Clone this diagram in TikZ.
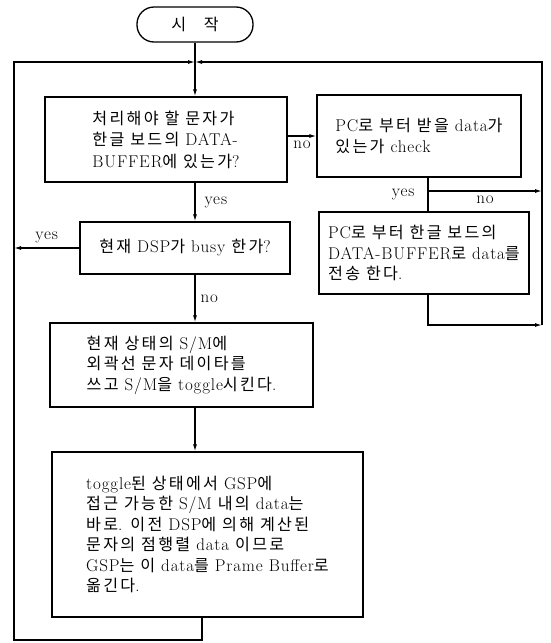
\documentclass[tikz,border=0pt]{standalone}
\usepackage{fontspec}
\setmainfont{Latin Modern Roman}[LetterSpace=5]
\newfontfamily\kr{Noto Sans CJK KR}[Scale=0.95, LetterSpace=14]
\usetikzlibrary{arrows.meta}

\begin{document}
\begin{tikzpicture}[
    x=1pt, y=-1pt,
    line width=1.2pt,
    font=\fontsize{17}{20.5}\selectfont,
    proc/.style={rectangle, draw, line width=1.3pt,
                 align=left, inner sep=0pt},
    term/.style={proc, rounded corners=17pt, align=center},
    flow/.style={-{Latex[length=7pt, width=4pt]}},
    tag/.style={inner sep=1pt},
]
\useasboundingbox (0,0) rectangle (551,643);

% Nodes -- main column
\node[term, minimum width=116pt, minimum height=35pt]
      (start) at (195,24.5) {{\kr 시\hspace{1.1em}작}};
\node[proc, minimum width=242pt, minimum height=85pt]
      (find) at (166,139.5)
      {{\kr 처리해야 할 문자가}\\[1pt]{\kr 한글 보드의} DATA-\\[1pt]BUFFER{\kr 에 있는가}?};
\node[proc, minimum width=210pt, minimum height=52pt]
      (dsp) at (185,248) {{\kr 현재} DSP{\kr 가} busy {\kr 한가}?};
\node[proc, minimum width=263pt, minimum height=84pt]
      (write) at (181.5,365)
      {{\kr 현재 상태의} S/M{\kr 에}\\{\kr 외곽선 문자 데이타를}\\{\kr 쓰고} S/M{\kr 을} toggle{\kr 시킨다}.};
\node[proc, minimum width=311pt, minimum height=165pt]
      (move) at (207.5,534.5)
      {toggle{\kr 된 상태에서} GSP{\kr 에}\\
       {\kr 접근 가능한} S/M {\kr 내의} data{\kr 는}\\
       {\kr 바로}. {\kr 이전} DSP{\kr 에 의해 계산된}\\
       {\kr 문자의 점행렬} data {\kr 이므로}\\
       GSP{\kr 는 이} data{\kr 를} Prame Buffer{\kr 로}\\
       {\kr 옮긴다}.};

% Nodes -- right column
\node[proc, minimum width=204pt, minimum height=82pt]
      (pccheck) at (419,136)
      {PC{\kr 로 부터 받을} data{\kr 가}\\{\kr 있는가} check};
\node[proc, minimum width=210pt, minimum height=82pt]
      (send) at (424,253)
      {PC{\kr 로 부터 한글 보드의}\\DATA-BUFFER{\kr 로} data{\kr 를}\\{\kr 전송 한다}.};

% Loop corners
\coordinate (top)    at (195,62);
\coordinate (loopNW) at (14,62);
\coordinate (loopSW) at (14,640);
\coordinate (bot)    at (202,640);
\coordinate (loopNE) at (542,62);
\coordinate (loopSE) at (542,325);
\coordinate (split)  at (428,191);

% Main column
\draw[flow] (start.south) -- (start |- find.north);
\draw[flow] (start |- find.south) -- (start |- dsp.north)
            node[tag, midway, right=8pt] {yes};
\draw[flow] (start |- dsp.south) -- (start |- write.north)
            node[tag, midway, right=4pt] {no};
\draw[flow] (start |- write.south) -- (start |- move.north);

% Busy: back to the loop
\draw[flow] (dsp.west) -- (dsp.west -| loopNW)
            node[tag, midway, above=3pt] {yes};

% Right column
\draw[flow] (find.east |- pccheck.west) -- (pccheck.west)
            node[tag, midway, below=3pt] {no};
\draw (pccheck.south -| split) -- (send.north -| split)
      node[tag, midway, left=12pt] {yes};
\draw[flow] (split) -- (split -| loopNE)
            node[tag, midway, below=3pt] {no};
\draw[flow] (send.south -| split) |- (loopSE);

% Loop back to the top
\draw[flow] (loopSE) -- (loopNE) -- (top);
\draw[flow] (move.south -| bot) -- (bot) -- (loopSW) -- (loopNW) -- (top);

\end{tikzpicture}
\end{document}
